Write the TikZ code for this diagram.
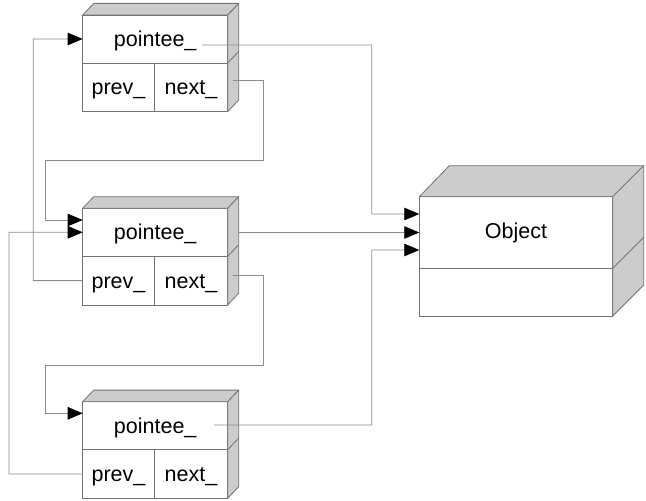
\documentclass[tikz,border=0pt]{standalone}
\usepackage{fontspec}
\setmainfont{Liberation Sans}
\usetikzlibrary{arrows.meta,calc}
\definecolor{conn}{gray}{0.55}
\definecolor{edge}{gray}{0.45}
\definecolor{side}{gray}{0.8}
\tikzset{
  cell/.style={draw=edge, line width=0.8bp, inner sep=0pt, outer sep=0pt, anchor=north west, font=\fontsize{21.5bp}{25bp}\selectfont},
  lcell/.style={cell, text height=19.5bp, text depth=4.4bp},
  shade3d/.style={draw=edge, line width=0.8bp, fill=side, line join=round},
  link/.style={draw=conn, line width=0.8bp},
  tip/.style={-{Triangle[length=15bp,width=12.5bp,color=black]}},
}
\newcommand\listbox[2]{%
  \node[lcell, minimum width=145bp, minimum height=48bp] (p#1) at (82.7,#2) {pointee\_};
  \node[lcell, minimum width=71.6bp, minimum height=48.6bp] (prev#1) at (82.7,#2+48) {prev\_};
  \node[lcell, minimum width=73.4bp, minimum height=48.6bp] (next#1) at (154.3,#2+48) {next\_};
  \draw[shade3d] (p#1.north west) -- ++(11,-11.6) -- ($(p#1.north east)+(11,-11.6)$) -- (p#1.north east) -- cycle;
  \draw[shade3d] (p#1.north east) -- ++(11,-11.6) -- ($(next#1.south east)+(11,-11.6)$) -- (next#1.south east) -- cycle;
  \draw[shade3d] (p#1.south east) -- ++(11,-11.6);
}
\begin{document}
\begin{tikzpicture}[x=1bp,y=-1bp]
\useasboundingbox (0,0) rectangle (646,501);
\fill[white] (0,0) rectangle (646,501);
\listbox{1}{15}
\listbox{2}{208.3}
\listbox{3}{401.7}
% Object
\node[cell, minimum width=193.4bp, minimum height=71.6bp] (obj) at (419.3,196.7) {Object};
\node[cell, minimum width=193.4bp, minimum height=47.7bp] (objlow) at (419.3,268.3) {};
\draw[shade3d] (obj.north west) -- ++(30,-31) -- ($(obj.north east)+(31,-31)$) -- (obj.north east) -- cycle;
\draw[shade3d] (obj.north east) -- ++(31,-31) -- ($(objlow.south east)+(31,-31)$) -- (objlow.south east) -- cycle;
\draw[shade3d] (obj.south east) -- ++(31,-31);
% connector start points
\coordinate (s1) at (202,45);
\coordinate (s2) at (238,232.5);
\coordinate (s3) at (214,425);
\coordinate (n1) at (233,80.7);
\coordinate (n2) at (233,275);
% pointee links
\draw[link,tip] (s1) -| (371.7,214) -- ([yshift=18.5bp]obj.west);
\draw[link,tip] (s2) -- (obj.west);
\draw[link,tip] (s3) -| (371.7,250) -- ([yshift=-17.5bp]obj.west);
% next links
\draw[link,tip] (n1) -- (263.3,80.7) |- (45.7,160.7) |- ([yshift=12.3bp]p2.west);
\draw[link,tip] (n2) -- (263.3,275) |- (45.7,365) |- ([yshift=12.4bp]p3.west);
% prev links
\draw[link,tip] (prev2.west) -| (33.3,39) -- (p1.west);
\draw[link,tip] (prev3.west) -| (9,232.3) -- (p2.west);
\end{tikzpicture}
\end{document}
